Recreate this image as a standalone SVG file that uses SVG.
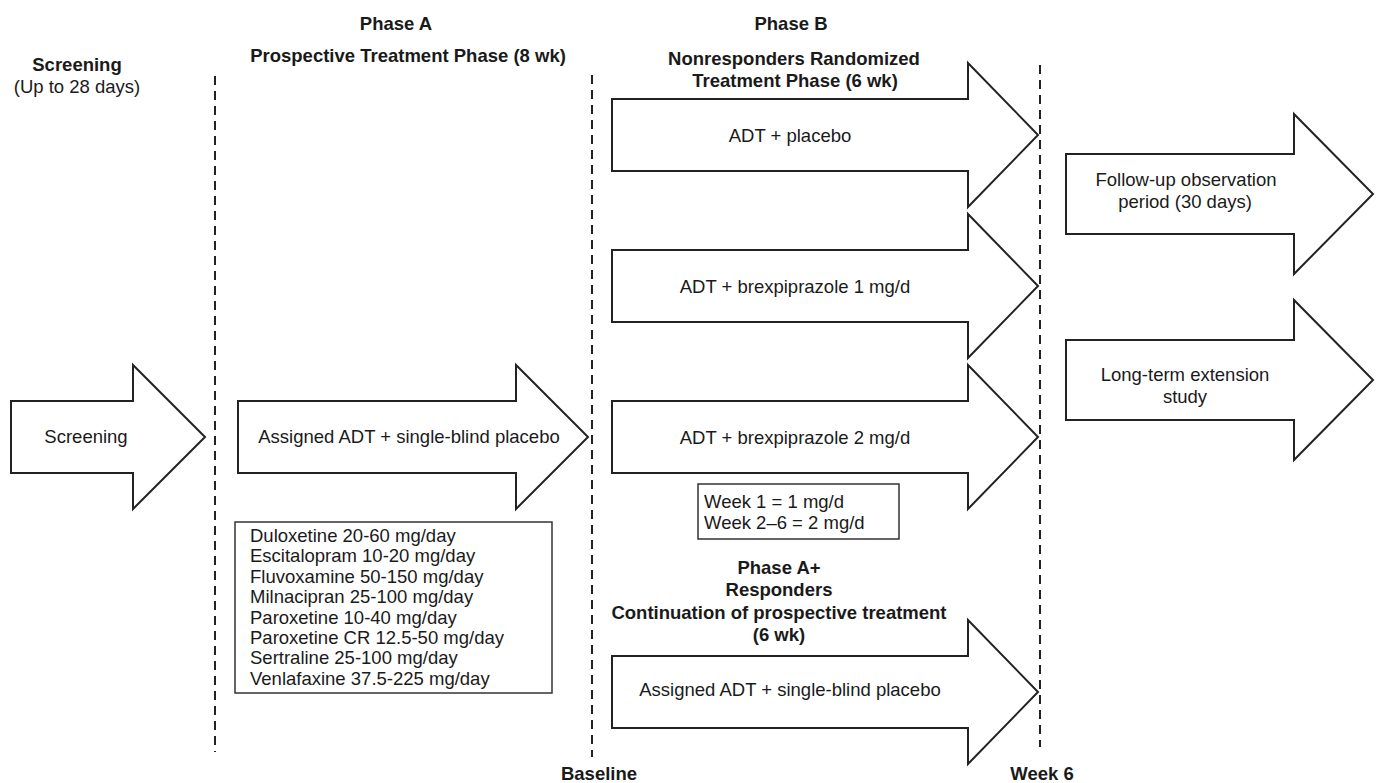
<svg xmlns="http://www.w3.org/2000/svg" width="1379" height="783" viewBox="0 0 1379 783">
<style>
.arrow{fill:#fff;stroke:#222;stroke-width:2;stroke-linejoin:miter}
.box{fill:#fff;stroke:#333;stroke-width:1.5}
.dash{stroke:#222;stroke-width:2;stroke-dasharray:9,6;fill:none}
text{font-family:"Liberation Sans",Arial,Helvetica,sans-serif;font-size:18.5px;fill:#1a1a1a}
.b{font-weight:bold}
.m{text-anchor:middle}
</style>
<rect width="1379" height="783" fill="#fff"/>
<g id="connectors">
<line class="dash" x1="215" y1="76" x2="215" y2="752"/>
<line class="dash" x1="592" y1="75" x2="592" y2="757"/>
<line class="dash" x1="1040" y1="65" x2="1040" y2="747"/>
</g>
<g id="headers">
<text class="b m" x="77" y="71">Screening</text>
<text class="m" x="77" y="93">(Up to 28 days)</text>
<text class="b m" x="396" y="30">Phase A</text>
<text class="b m" x="408" y="62">Prospective Treatment Phase (8 wk)</text>
<text class="b m" x="791" y="30">Phase B</text>
<text class="b m" x="794" y="65">Nonresponders Randomized</text>
<text class="b m" x="795" y="87">Treatment Phase (6 wk)</text>
<text class="b m" x="599" y="780">Baseline</text>
<text class="b m" x="1042" y="780">Week 6</text>
</g>
<g id="screening">
<polygon class="arrow" points="11,401 133,401 133,365 205,437 133,509 133,473 11,473"/>
<text class="m" x="86" y="443">Screening</text>
</g>
<g id="phaseA">
<polygon class="arrow" points="238,401 516,401 516,365 588,437 516,509 516,473 238,473"/>
<text class="m" x="409" y="443">Assigned ADT + single-blind placebo</text>
</g>
<g id="drugs">
<rect class="box" x="235" y="522" width="317" height="171"/>
<text x="250" y="542">Duloxetine 20-60 mg/day</text>
<text x="250" y="562">Escitalopram 10-20 mg/day</text>
<text x="250" y="583">Fluvoxamine 50-150 mg/day</text>
<text x="250" y="603">Milnacipran 25-100 mg/day</text>
<text x="250" y="624">Paroxetine 10-40 mg/day</text>
<text x="250" y="644">Paroxetine CR 12.5-50 mg/day</text>
<text x="250" y="664">Sertraline 25-100 mg/day</text>
<text x="250" y="685">Venlafaxine 37.5-225 mg/day</text>
</g>
<g id="placebo">
<polygon class="arrow" points="612,99 968,99 968,63 1038,135 968,207 968,171 612,171"/>
<text class="m" x="790" y="142">ADT + placebo</text>
</g>
<g id="brex1">
<polygon class="arrow" points="612,250 968,250 968,214 1038,286 968,358 968,322 612,322"/>
<text class="m" x="795" y="293">ADT + brexpiprazole 1 mg/d</text>
</g>
<g id="brex2">
<polygon class="arrow" points="612,401 968,401 968,365 1038,437 968,509 968,473 612,473"/>
<text class="m" x="795" y="444">ADT + brexpiprazole 2 mg/d</text>
</g>
<g id="weekbox">
<rect class="box" x="698" y="484" width="201" height="55"/>
<text x="704" y="508">Week 1 = 1 mg/d</text>
<text x="704" y="529">Week 2–6 = 2 mg/d</text>
</g>
<g id="phaseAplus">
<text class="b m" x="779" y="574">Phase A+</text>
<text class="b m" x="779" y="596">Responders</text>
<text class="b m" x="779" y="619">Continuation of prospective treatment</text>
<text class="b m" x="779" y="641">(6 wk)</text>
<polygon class="arrow" points="612,656 968,656 968,620 1038,692 968,764 968,728 612,728"/>
<text class="m" x="790" y="696">Assigned ADT + single-blind placebo</text>
</g>
<g id="followup">
<polygon class="arrow" points="1066,154 1294,154 1294,114 1373,194 1294,274 1294,234 1066,234"/>
<text class="m" x="1186" y="186">Follow-up observation</text>
<text class="m" x="1185" y="208">period (30 days)</text>
</g>
<g id="extension">
<polygon class="arrow" points="1066,340 1294,340 1294,300 1373,380 1294,460 1294,420 1066,420"/>
<text class="m" x="1185" y="381">Long-term extension</text>
<text class="m" x="1185" y="403">study</text>
</g>
</svg>
